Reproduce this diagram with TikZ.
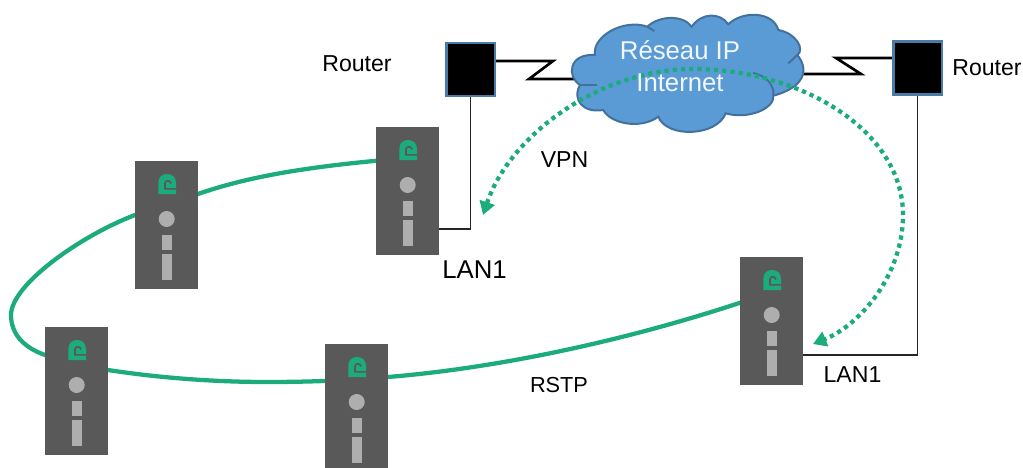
\documentclass[tikz,border=0pt]{standalone}
\usepackage{fontspec}
\setmainfont{Liberation Sans}
\usetikzlibrary{arrows.meta,backgrounds,calc}
\definecolor{devgray}{HTML}{595959}
\definecolor{ledgray}{HTML}{AEAEAE}
\definecolor{ringgreen}{HTML}{1BAB7C}
\definecolor{cloudblue}{HTML}{5B9BD5}
\definecolor{cloudline}{HTML}{41719C}
\definecolor{routerline}{HTML}{4A7BA6}
\tikzset{x=0.75pt,y=-0.75pt,
  devbox/.style={fill=devgray,draw=none,minimum width=47.25pt,minimum height=96pt,inner sep=0pt,rectangle},
  led/.style={fill=ledgray},
  logo/.style={fill=ringgreen},
  router/.style={fill=black,draw=routerline,line width=1.9pt,minimum width=36.4pt,minimum height=39.6pt,inner sep=0pt,rectangle},
  ring/.style={draw=ringgreen,line width=3.2pt},
  vpn/.style={draw=ringgreen,line width=3.2pt,dash pattern=on 3.2pt off 3pt,{Triangle[length=10pt,width=11.5pt]}-{Triangle[length=10pt,width=11.5pt]}},
  wire/.style={draw=black!85,line width=1.1pt},
  serial/.style={draw=black,line width=2pt,line join=miter},
  crease/.style={draw=cloudline,line width=1.5pt},
  lbl/.style={inner sep=0pt,font=\fontsize{17.3}{20}\selectfont,text=black},
  lblmid/.style={inner sep=0pt,font=\fontsize{16.3}{20}\selectfont,text=black},
  lblbig/.style={inner sep=0pt,font=\fontsize{19.3}{22}\selectfont,text=black},
  cloudlbl/.style={inner sep=0pt,font=\fontsize{19.3}{23}\selectfont,text=white!92!cloudblue},
}
\newcommand{\devicebox}[3]{%
  \node[devbox] (#1) at (#2+31.5,#3+64) {};
  \begin{scope}[shift={(#2,#3)}]
    \fill[logo] (23.3,33) -- (23.3,22) .. controls (23.3,16) and (27,13) .. (32,13)
      .. controls (37.5,13) and (41,16.5) .. (41,22) -- (41,33) -- cycle;
    \draw[devgray,line width=1.2pt] (41,27.8) -- (30,27.8) -- (30,22) .. controls (30,19.5) and (35.5,18.5) .. (36,22.5);
    \fill[led] (31.7,58) circle [radius=8];
    \fill[led] (26.7,73.7) rectangle (37.3,89);
    \fill[led] (26.7,93) rectangle (37.3,119);
  \end{scope}}
\begin{document}
\begin{tikzpicture}
\useasboundingbox (0,0) rectangle (1023,467);
\clip (0,0) rectangle (1023,467);
\devicebox{dA}{135}{161}
\devicebox{dB}{376}{127}
\devicebox{dC}{740}{257}
\devicebox{dD}{45}{327}
\devicebox{dE}{325}{344}
\node[router] (rL) at (470.5,69.5) {};
\node[router] (rR) at (917.5,68) {};
\coordinate (zL) at (553,61);
\coordinate (zLb) at (529,79);
\coordinate (cL) at (590,79);
\coordinate (zR) at (861,74);
\coordinate (zRb) at (836,58);
\coordinate (cR) at (795,74);
\coordinate (vpnA) at (483,215);
\coordinate (vpnB) at (813,344);
\begin{scope}[on background layer]
  \draw[ring] (dB.center |- 0,158) .. controls (310,166) and (250,176) .. (198,194)
    -- (135,215) .. controls (80,236) and (11,285) .. (11,315)
    .. controls (11,335) and (25,348) .. (45,355)
    .. controls (65,362) and (85,367) .. (108,370)
    .. controls (160,378) and (215,382) .. (267,382)
    .. controls (300,382) and (345,381) .. (388,377)
    .. controls (510,367) and (650,335) .. (dC.center |- 0,292) -- (dC.center);
\end{scope}
\draw[serial] (rL.east |- zL) -- (zL) -- (zLb) -- (cL);
\draw[serial] (cR) -- (zR) -- (zRb) -- (rR.west |- zRb);
\draw[wire] (rL.south) -- (rL.south |- 0,229) -- (dB.east |- 0,229);
\draw[wire] (rR.south) -- (rR.south |- 0,355) -- (dC.east |- 0,355);
\filldraw[fill=cloudblue,draw=cloudline,line width=1.5pt]
  (595,55) .. controls (591.7,36.7) and (623.3,18.3) .. (647.3,26.7)
  .. controls (660,15) and (683.3,15) .. (691.7,26.7)
  .. controls (701.7,12.3) and (720,12.3) .. (728.3,24.3)
  .. controls (743.3,10) and (773.3,11.7) .. (778.3,30)
  .. controls (796.7,33.3) and (805,50) .. (797.3,55)
  .. controls (808.3,68.3) and (806.7,86.7) .. (773.3,95.7)
  .. controls (775,108.3) and (748.3,120) .. (725.7,113.3)
  .. controls (716.7,136.7) and (666.7,138.3) .. (658.3,116.7)
  .. controls (640,130) and (610,123.3) .. (603.3,110)
  .. controls (583.3,113.3) and (571.7,100) .. (580,85)
  .. controls (566.7,76.7) and (568.3,53.3) .. (595,55) -- cycle;
\draw[crease] (647.3,26.7) -- (654.3,31);
\draw[crease] (797.3,55) -- (788.3,63.3);
\draw[crease] (773.3,95.7) .. controls (775,85) and (765,75) .. (753,73);
\draw[crease] (580,85) .. controls (585,85) and (590,85) .. (596.7,85);
\draw[vpn] (vpnA) .. controls (510,135) and (600,69) .. (693,69)
  .. controls (800,69) and (903,130) .. (903,215) .. controls (903,275) and (860,325) .. (vpnB);
\node[cloudlbl] (t1) at (680,50) {Réseau IP};
\node[cloudlbl] (t2) at (680,83) {Internet};
\node[lbl] (t3) at (357,64) {Router};
\node[lbl] (t4) at (987,68) {Router};
\node[lbl] (t5) at (564.5,160) {VPN};
\node[lblbig] (t6) at (474.5,270) {LAN1};
\node[lbl] (t7) at (852.5,375) {LAN1};
\node[lblmid] (t8) at (559,385) {RSTP};
\end{tikzpicture}
\end{document}
